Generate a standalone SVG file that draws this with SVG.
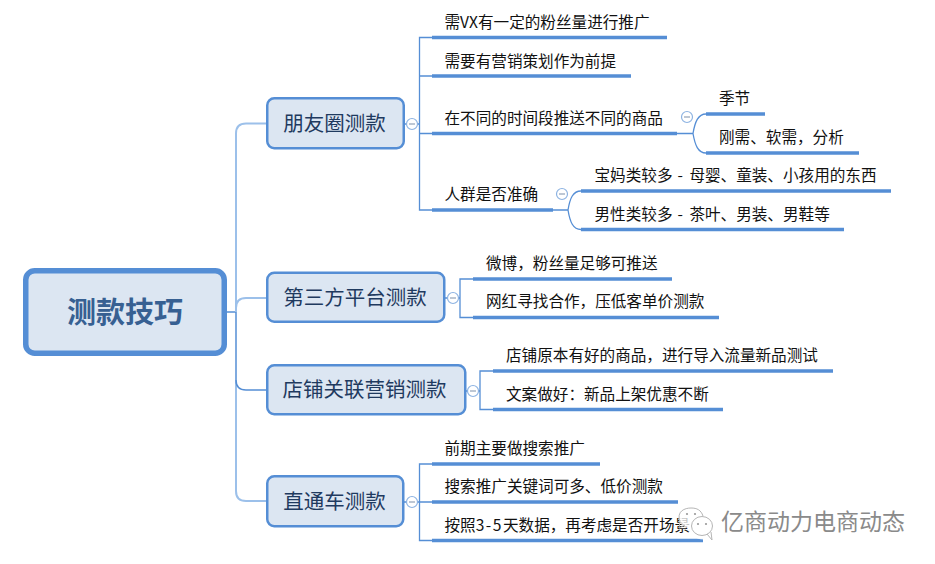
<svg xmlns="http://www.w3.org/2000/svg" width="935" height="564" viewBox="0 0 935 564">
<style>
text{font-family:"Noto Sans CJK SC","Noto Sans",sans-serif}
.root{fill:#dce6f2;stroke:#558ed5;stroke-width:5.5}
.topic{fill:#dce6f2;stroke:#558ed5;stroke-width:2.5}
.rt{font-size:29px;font-weight:700;fill:#376092;text-anchor:middle}
.tt{font-size:20.5px;fill:#1f3a5f;text-anchor:middle}
.lt{font-size:15.6px;fill:#111}
.w{letter-spacing:1.500px}
.u{stroke:#558ed5;stroke-width:3.5;fill:none}
.c{stroke:#558ed5;stroke-width:1.3;fill:none}
.cl{stroke:#9cc0ea;stroke-width:2;fill:none}
.cd{stroke:#558ed5;stroke-width:1.5;fill:none}
.fold circle{fill:#fff;stroke:#8db3e2;stroke-width:1.2}
.fold path{stroke:#9aa9bd;stroke-width:1.3;fill:none}
.wm{font-size:23px;fill:#8a8a8a;stroke:#fff;stroke-width:2.5;paint-order:stroke}
</style>
<g id="connectors">
<path class="cd" d="M226 312H236"/>
<path class="cl" d="M266 123.500H246Q236 123.500 236 133.500V312"/>
<path class="cl" d="M266 298H246Q236 298 236 308"/>
<path class="cl" d="M236 380V491Q236 501 246 501H266"/>
<path class="cd" d="M236 312V380Q236 390 246 390H266"/>
<path class="c" d="M405 124H419.500M432 37.500H419.500V210H432M419.500 76H432M419.500 133.500H432"/>
<path class="c" d="M677 133.500H693C695 122 698 114 706 114M693 133.500C695 145 698 153 706 153"/>
<path class="c" d="M553 210H568C570 198 573 191 581 191M568 210C570 222 573 229.500 581 229.500"/>
<path class="c" d="M445 298H460M473 279H460V317.500H473"/>
<path class="c" d="M466 391H480M493 371H480V409.500H493"/>
<path class="c" d="M404 502H432M432 464H419.500V540.500H432"/>
</g>
<g id="root"><rect class="root" x="25.750" y="270.750" width="198.500" height="82.500" rx="9"/><text class="rt" x="125" y="323">测款技巧</text></g>
<g id="topic-1"><rect class="topic" x="267.250" y="98.250" width="136.500" height="50" rx="7"/><text class="tt" x="334.500" y="130.500">朋友圈测款</text></g>
<g id="topic-2"><rect class="topic" x="267.250" y="272.750" width="177" height="49" rx="7"/><text class="tt" x="355" y="305">第三方平台测款</text></g>
<g id="topic-3"><rect class="topic" x="267.250" y="365.250" width="198" height="49" rx="7"/><text class="tt" x="364.500" y="397">店铺关联营销测款</text></g>
<g id="topic-4"><rect class="topic" x="267.250" y="476.250" width="136" height="50" rx="7"/><text class="tt" x="334.500" y="509">直通车测款</text></g>
<g id="leaf-1"><text class="lt" x="444.500" y="28">需VX有一定的粉丝量进行推广</text><path class="u" d="M432 37.500H667"/></g>
<g id="leaf-2"><text class="lt" x="444.500" y="67">需要有营销策划作为前提</text><path class="u" d="M432 76H631"/></g>
<g id="leaf-3"><text class="lt" x="444.500" y="124">在不同的时间段推送不同的商品</text><path class="u" d="M432 133.500H677"/></g>
<g id="leaf-4"><text class="lt" x="444.500" y="200">人群是否准确</text><path class="u" d="M432 210H553"/></g>
<g id="leaf-3-1"><text class="lt" x="719" y="104">季节</text><path class="u" d="M706 114H765"/></g>
<g id="leaf-3-2"><text class="lt" x="719" y="143">刚需、软需&#xFF0C;分析</text><path class="u" d="M706 153H859"/></g>
<g id="leaf-4-1"><text class="lt" x="594.500" y="181">宝妈类较多<tspan class="w"> - </tspan>母婴、童装、小孩用的东西</text><path class="u" d="M581 191H891"/></g>
<g id="leaf-4-2"><text class="lt" x="594.500" y="220">男性类较多<tspan class="w"> - </tspan>茶叶、男装、男鞋等</text><path class="u" d="M581 229.500H844"/></g>
<g id="leaf-5"><text class="lt" x="486" y="269">微博&#xFF0C;粉丝量足够可推送</text><path class="u" d="M473 279H672"/></g>
<g id="leaf-6"><text class="lt" x="486" y="307">网红寻找合作&#xFF0C;压低客单价测款</text><path class="u" d="M473 317.500H719"/></g>
<g id="leaf-7"><text class="lt" x="506" y="361">店铺原本有好的商品&#xFF0C;进行导入流量新品测试</text><path class="u" d="M493 371H833"/></g>
<g id="leaf-8"><text class="lt" x="506" y="400">文案做好&#xFF1A;新品上架优惠不断</text><path class="u" d="M493 409.500H723"/></g>
<g id="leaf-9"><text class="lt" x="444.500" y="454">前期主要做搜索推广</text><path class="u" d="M432 464H600"/></g>
<g id="leaf-10"><text class="lt" x="444.500" y="492">搜索推广关键词可多、低价测款</text><path class="u" d="M432 502H678"/></g>
<g id="leaf-11"><text class="lt" x="444.500" y="531">按照<tspan class="w">3-5</tspan>天数据&#xFF0C;再考虑是否开场景</text><path class="u" d="M432 540.500H703"/></g>
<g id="folds" class="fold">
<g><circle cx="412" cy="124" r="5.500"/><path d="M409 124H415"/></g>
<g><circle cx="687" cy="117" r="5.500"/><path d="M684 117H690"/></g>
<g><circle cx="562" cy="194" r="5.500"/><path d="M559 194H565"/></g>
<g><circle cx="453" cy="298" r="5.500"/><path d="M450 298H456"/></g>
<g><circle cx="473" cy="391" r="5.500"/><path d="M470 391H476"/></g>
<g><circle cx="412" cy="502" r="5.500"/><path d="M409 502H415"/></g>
</g>
<g id="watermark">
<g fill="#fff" stroke="#fff" stroke-width="3" fill-opacity=".75" stroke-opacity=".8">
<ellipse cx="691" cy="517" rx="11" ry="10"/>
<ellipse cx="703" cy="528" rx="11" ry="10"/>
</g>
<g fill="none" stroke="#b5b5b5" stroke-width="1">
<path d="M680 522C676 511 685 508 691 508C697 508 701 510 703 516"/>
<path d="M680 522L679 528L685 525"/>
<ellipse cx="702" cy="526" rx="10.500" ry="9.500"/>
<path d="M707 534L712 540L711 532"/>
</g>
<g fill="#999"><circle cx="687" cy="514" r="1.100"/><circle cx="695" cy="514" r="1.100"/><circle cx="698" cy="524" r="1.100"/><circle cx="706" cy="524" r="1.100"/></g>
<text class="wm" x="721" y="530">亿商动力电商动态</text>
</g>
</svg>
